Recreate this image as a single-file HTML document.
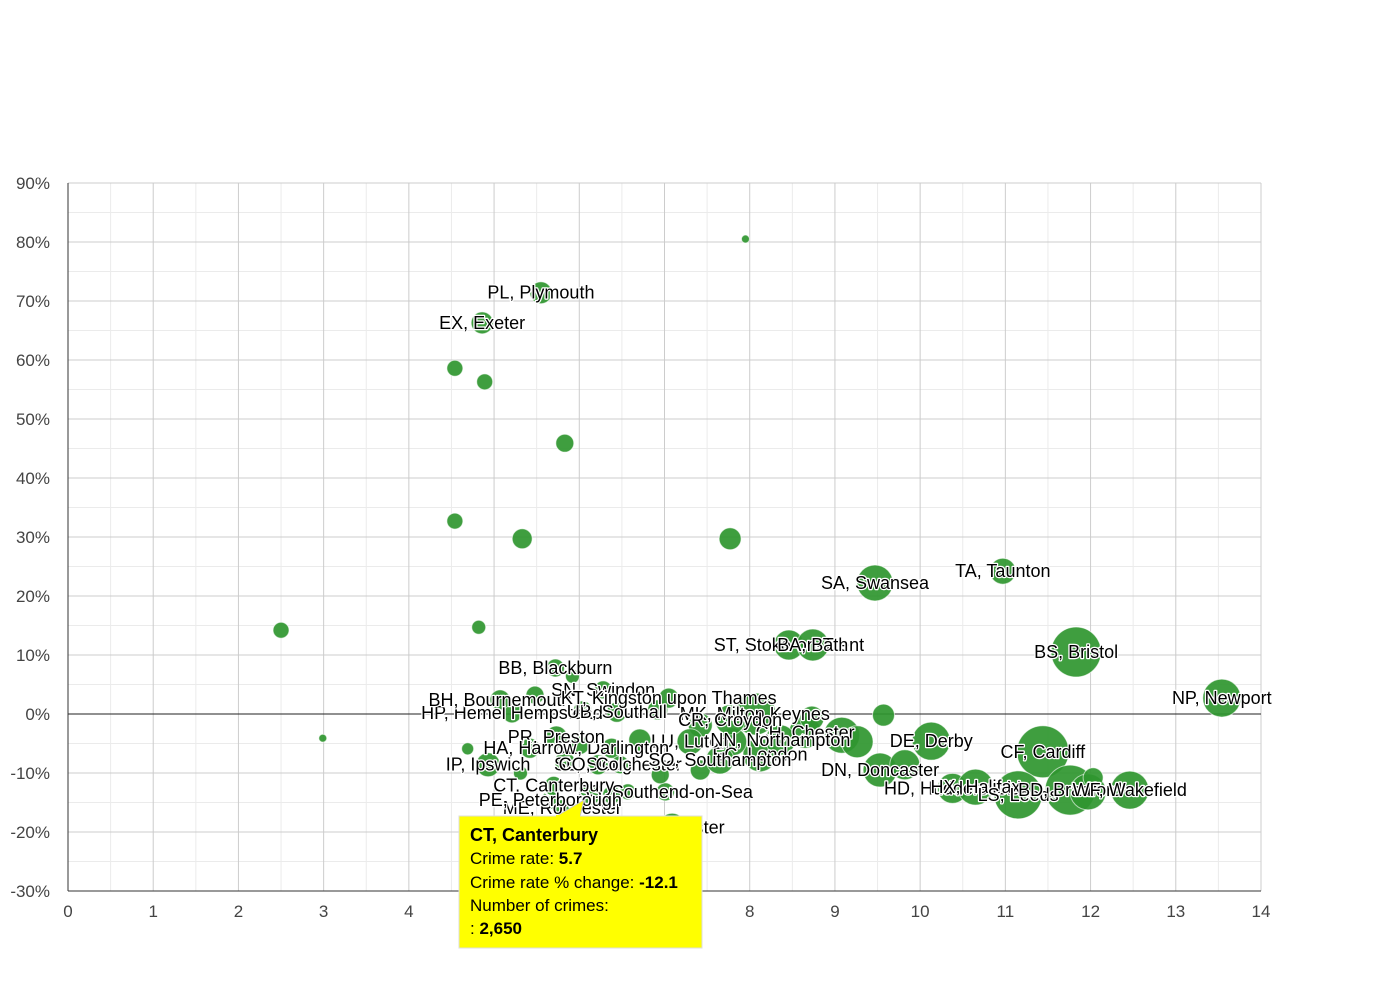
<!DOCTYPE html>
<html><head><meta charset="utf-8">
<style>
body{margin:0;background:#fff;font-family:"Liberation Sans",Arial,sans-serif;}
svg text{font-family:"Liberation Sans",Arial,sans-serif;}
.lbl{font-size:18px;fill:#000;stroke:#fff;stroke-width:2.5px;paint-order:stroke;stroke-linejoin:round;}
</style></head>
<body>
<svg id="chart" width="1390" height="980" xmlns="http://www.w3.org/2000/svg">
<g id="grid"></g>
<g id="axes"></g>
<g id="bubbles"></g>
<g id="labels"></g>
<g id="tooltip">
  <polygon points="555,817 580,817 584,800" fill="#ffff00" stroke="#ccc"/>
  <rect x="459" y="816" width="243" height="132" fill="#ffff00" stroke="#ddd"/>
  <rect x="556" y="815" width="24" height="3" fill="#ffff00"/>
  <text x="470" y="841" font-size="18" font-weight="bold">CT, Canterbury</text>
  <text x="470" y="864" font-size="17">Crime rate: <tspan font-weight="bold">5.7</tspan></text>
  <text x="470" y="888" font-size="17">Crime rate % change: <tspan font-weight="bold">-12.1</tspan></text>
  <text x="470" y="911" font-size="17">Number of crimes:</text>
  <text x="470" y="934" font-size="17">: <tspan font-weight="bold">2,650</tspan></text>
</g>
</svg>
<script>
const names=["","PL, Plymouth","EX, Exeter","","","","","","","","","","","SA, Swansea","TA, Taunton","BS, Bristol","NP, Newport","ST, Stoke-on-Trent","BA, Bath","CF, Cardiff","DE, Derby","DN, Doncaster","HD, Huddersfield","HX, Halifax","LS, Leeds","BD, Bradford","","","WF, Wakefield","","","","","CH, Chester","","MK, Milton Keynes","EC, London","","CR, Croydon","","LU, Luton","LE, Leicester","SS, Southend-on-Sea","","","","ME, Rochester","CT, Canterbury","SL, Slough","","DL, Darlington","","","IP, Ipswich","PR, Preston","HA, Harrow","HP, Hemel Hempstead","BH, Bournemouth","","BB, Blackburn","","SN, Swindon","","UB, Southall","","KT, Kingston upon Thames","","","","PE, Peterborough","CO, Colchester","SO, Southampton","NN, Northampton"];
const crimeRate=[7.95,5.55,4.86,4.54,4.89,5.83,4.54,5.33,7.77,2.50,4.82,2.99,4.69,9.47,10.97,11.83,13.54,8.46,8.74,11.44,10.13,9.53,10.38,10.65,11.15,11.76,11.97,12.03,12.46,9.57,9.82,9.08,9.26,8.65,8.73,8.06,8.12,7.80,7.77,7.42,7.30,7.09,7.01,6.57,6.38,6.13,5.80,5.70,6.22,5.83,6.38,6.71,5.31,4.93,5.73,5.42,5.21,5.07,5.48,5.72,5.92,6.28,6.04,6.44,6.92,7.05,6.95,7.42,6.01,5.66,6.48,7.65,8.36];
const change=[80.5,71.4,66.3,58.6,56.3,45.9,32.7,29.7,29.7,14.2,14.7,-4.1,-5.9,22.2,24.2,10.5,2.7,11.7,11.7,-6.4,-4.6,-9.5,-12.6,-12.4,-13.7,-12.9,-13.2,-10.8,-12.9,-0.2,-8.6,-3.6,-4.7,-3.1,-0.7,0,-6.9,-4.7,-1.0,-1.9,-4.7,-19.2,-13.2,-13.2,-13.7,-13.7,-15.9,-12.1,-8.6,-8.1,-5.8,-4.4,-10.0,-8.6,-3.9,-5.8,0.2,2.4,3.2,7.8,6.4,4.1,0.7,0.3,0.7,2.7,-10.3,-9.5,-5.3,-14.6,-8.6,-7.8,-4.4];
const crimes=[520,3950,3950,2090,2090,2640,2090,3270,3950,2090,1600,520,1180,10580,5520,20400,11790,7350,8360,22070,11790,9440,7350,10580,18800,20400,10580,3270,11790,3950,7350,10580,8360,8360,4700,14400,9440,6400,7350,4700,5520,6400,2640,2090,2640,3270,2090,2650,3270,3270,3270,3950,1600,4700,3950,3270,3270,3270,2640,2640,1600,2640,2640,3270,3270,3270,2640,3270,2640,2640,2640,6400,7350];
const xTicks=[0,1,2,3,4,5,6,7,8,9,10,11,12,13,14];
const yTicks=[90,80,70,60,50,40,30,20,10,0,-10,-20,-30];
const NS="http://www.w3.org/2000/svg";
const X0=68,X1=1261,Y0=183,Y1=891;
const sx=v=>X0+(v-0)/14*(X1-X0);
const sy=v=>Y0+(90-v)/120*(Y1-Y0);
const sr=c=>Math.sqrt(c)*0.175;
function mk(tag,attrs,parent){const e=document.createElementNS(NS,tag);for(const k in attrs)e.setAttribute(k,attrs[k]);parent.appendChild(e);return e;}
const grid=document.getElementById('grid'),axes=document.getElementById('axes'),bub=document.getElementById('bubbles'),lab=document.getElementById('labels');
for(let v=0.5;v<14;v+=1){const l=mk('line',{x1:sx(v),x2:sx(v),y1:Y0,y2:Y1,stroke:'#ebebeb'},grid);

}
for(let v=85;v>-30;v-=10){const l=mk('line',{x1:X0,x2:X1,y1:sy(v),y2:sy(v),stroke:'#ebebeb'},grid);

}
xTicks.forEach(v=>{if(v>0){const l=mk('line',{x1:sx(v),x2:sx(v),y1:Y0,y2:Y1,stroke:'#cccccc'},grid);

}
const t=mk('text',{x:sx(v),y:917,'text-anchor':'middle','font-size':17,fill:'#444'},axes);t.textContent=v;

});
yTicks.forEach(v=>{const l=mk('line',{x1:X0,x2:X1,y1:sy(v),y2:sy(v),stroke:v===0?'#222':'#cccccc'},grid);


const t=mk('text',{x:50,y:sy(v)+6,'text-anchor':'end','font-size':17,fill:'#444'},axes);t.textContent=v+'%';

});
const ax=mk('line',{x1:X0,x2:X0,y1:Y0,y2:Y1,stroke:'#333'},axes);


const ax2=mk('line',{x1:X0,x2:X1,y1:Y1,y2:Y1,stroke:'#333'},axes);


for(let i=0;i<crimeRate.length;i++){
const c=mk('circle',{cx:sx(crimeRate[i]),cy:sy(change[i]),r:sr(crimes[i]),fill:'#2f962f','fill-opacity':0.92,stroke:'#ffffff','stroke-opacity':0.6,'stroke-width':1},bub);

}
for(let i=0;i<crimeRate.length;i++){if(!names[i])continue;
const t=mk('text',{x:sx(crimeRate[i]),y:sy(change[i])+6,'text-anchor':'middle',class:'lbl'},lab);t.textContent=names[i];

}
const ct=names.indexOf("CT, Canterbury");
const hl=mk('circle',{cx:sx(crimeRate[ct]),cy:sy(change[ct]),r:sr(crimes[ct])+2,fill:'none',stroke:'#fff','stroke-width':2},bub);


</script>
</body></html>
